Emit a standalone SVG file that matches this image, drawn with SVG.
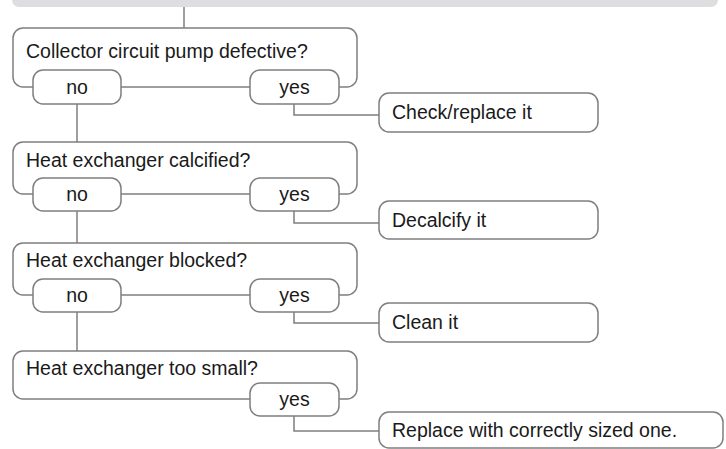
<svg xmlns="http://www.w3.org/2000/svg" width="726" height="449" viewBox="0 0 726 449">
<style>
.box{fill:#fff;stroke:#7f7f7f;stroke-width:1.5}
.ln{fill:none;stroke:#7f7f7f;stroke-width:1.5}
text{font-family:"Liberation Sans",Arial,sans-serif;font-size:19.5px;fill:#1a1a1a}
.c{text-anchor:middle}
</style>
<rect x="12" y="-12" width="706" height="19" rx="7" fill="#dedee0"/>
<g id="connectors">
<path class="ln" d="M184,7V28"/>
<path class="ln" d="M77,104V142"/>
<path class="ln" d="M294,104V115H379"/>
<path class="ln" d="M77,211V243"/>
<path class="ln" d="M294,211V223H379"/>
<path class="ln" d="M77,312V351"/>
<path class="ln" d="M294,312V323H379"/>
<path class="ln" d="M294,416V431H379"/>
</g>
<g id="q1">
<rect class="box" x="13" y="28" width="344" height="59" rx="10"/>
<text x="26" y="58">Collector circuit pump defective?</text>
</g>
<g id="q1-no"><rect class="box" x="33" y="70" width="88" height="34" rx="10"/><text class="c" x="77" y="94">no</text></g>
<g id="q1-yes"><rect class="box" x="250" y="70" width="89" height="34" rx="10"/><text class="c" x="294.5" y="94">yes</text></g>
<g id="a1"><rect class="box" x="379" y="93" width="219" height="39" rx="10"/><text x="392" y="119">Check/replace it</text></g>

<g id="q2">
<rect class="box" x="13" y="142" width="344" height="52" rx="10"/>
<text x="26" y="167">Heat exchanger calcified?</text>
</g>
<g id="q2-no"><rect class="box" x="33" y="178" width="88" height="33" rx="10"/><text class="c" x="77" y="201">no</text></g>
<g id="q2-yes"><rect class="box" x="250" y="178" width="89" height="33" rx="10"/><text class="c" x="294.5" y="201">yes</text></g>
<g id="a2"><rect class="box" x="379" y="201" width="219" height="38" rx="10"/><text x="392" y="227">Decalcify it</text></g>

<g id="q3">
<rect class="box" x="13" y="243" width="344" height="52" rx="10"/>
<text x="26" y="267">Heat exchanger blocked?</text>
</g>
<g id="q3-no"><rect class="box" x="33" y="279" width="88" height="33" rx="10"/><text class="c" x="77" y="302">no</text></g>
<g id="q3-yes"><rect class="box" x="250" y="279" width="89" height="33" rx="10"/><text class="c" x="294.5" y="302">yes</text></g>
<g id="a3"><rect class="box" x="379" y="303" width="219" height="39" rx="10"/><text x="392" y="329">Clean it</text></g>

<g id="q4">
<rect class="box" x="13" y="351" width="344" height="48" rx="10"/>
<text x="26" y="375">Heat exchanger too small?</text>
</g>
<g id="q4-yes"><rect class="box" x="250" y="383" width="89" height="33" rx="10"/><text class="c" x="294.5" y="406">yes</text></g>
<g id="a4"><rect class="box" x="379" y="412" width="344" height="36" rx="10"/><text x="392" y="437">Replace with correctly sized one.</text></g>
</svg>
